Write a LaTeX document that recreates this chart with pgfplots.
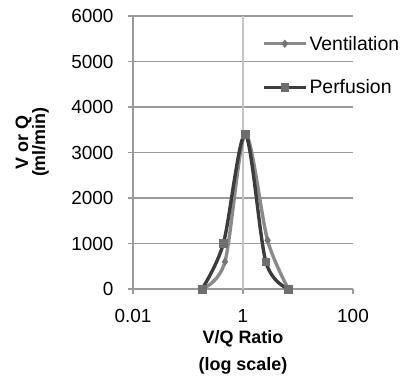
\documentclass[border=0pt]{standalone}
\usepackage{pgfplots}
\pgfplotsset{compat=1.18}
\usepackage{fontspec}
\setmainfont{Liberation Sans}
\definecolor{ventc}{HTML}{8A8A8A}
\definecolor{perfc}{HTML}{3C3C3C}
\definecolor{markc}{HTML}{6E6E6E}
\definecolor{gridc}{HTML}{9A9A9A}
\definecolor{vlinec}{HTML}{C4C4C4}
\begin{document}
\begin{tikzpicture}
\path[use as bounding box] (-133bp,-88bp) rectangle (272bp,289bp);
\begin{axis}[
  at={(0,0)}, anchor=south west,
  scale only axis, width=220bp, height=273bp,
  xmode=log, xmin=0.01, xmax=100,
  ymin=0, ymax=6000,
  xtick={0.01,1,100}, xticklabels={0.01,1,100},
  minor xtick={},
  ytick={0,1000,2000,3000,4000,5000,6000},
  scaled y ticks=false,
  /pgf/number format/1000 sep={},
  /pgf/number format/assume math mode=true,
  ticklabel style={font=\fontsize{19}{21}\selectfont, text=black},
  yticklabel style={xshift=-11bp},
  xticklabel style={yshift=-12bp},
  axis x line*=bottom, axis y line*=left,
  axis line style={gridc, line width=1.2bp},
  tick style={gridc, line width=1.2bp},
  tick align=outside, major tick length=5bp,
  ymajorgrids=true,
  major grid style={gridc, line width=1.2bp},
  xlabel={V/Q Ratio\\[6bp](log scale)},
  xlabel style={at={(axis description cs:0.5,-0.232)}, anchor=center, align=center, font=\bfseries\fontsize{18}{21}\selectfont},
  ylabel={V or Q\\(ml/min)},
  ylabel style={at={(axis description cs:-0.458,0.538)}, anchor=center, align=center, font=\bfseries\fontsize{18}{17}\selectfont},
  legend style={at={(axis description cs:0.586,0.935)}, anchor=north west, draw=none, fill=none,
    font=\fontsize{19.5}{21}\selectfont, row sep=24bp, inner sep=0pt,
    nodes={inner sep=2bp}},
  legend cell align=left,
  legend image code/.code={\draw[mark repeat=2, mark phase=2, #1] plot coordinates {(0bp,0bp) (21bp,0bp) (42bp,0bp)};},
]
\draw[vlinec, line width=2.5bp] (axis cs:1,0) -- (axis cs:1,6000);
\addplot[ventc, line width=3.4bp, smooth, tension=0.5, mark=diamond*, mark size=3.8bp,
  mark options={fill=ventc!85!black, draw=ventc!85!black, line width=0.5bp}]
  coordinates {(0.18,0) (0.47,600) (1.1,3400) (2.8,1070) (6.7,0)};
\addlegendentry{Ventilation}
\addplot[perfc, line width=3.4bp, smooth, tension=0.5, mark=square*, mark size=3.8bp,
  mark options={fill=markc, draw=markc, line width=0.5bp}]
  coordinates {(0.18,0) (0.44,1000) (1.1,3400) (2.6,600) (6.7,0)};
\addlegendentry{Perfusion}
\end{axis}
\end{tikzpicture}
\end{document}
